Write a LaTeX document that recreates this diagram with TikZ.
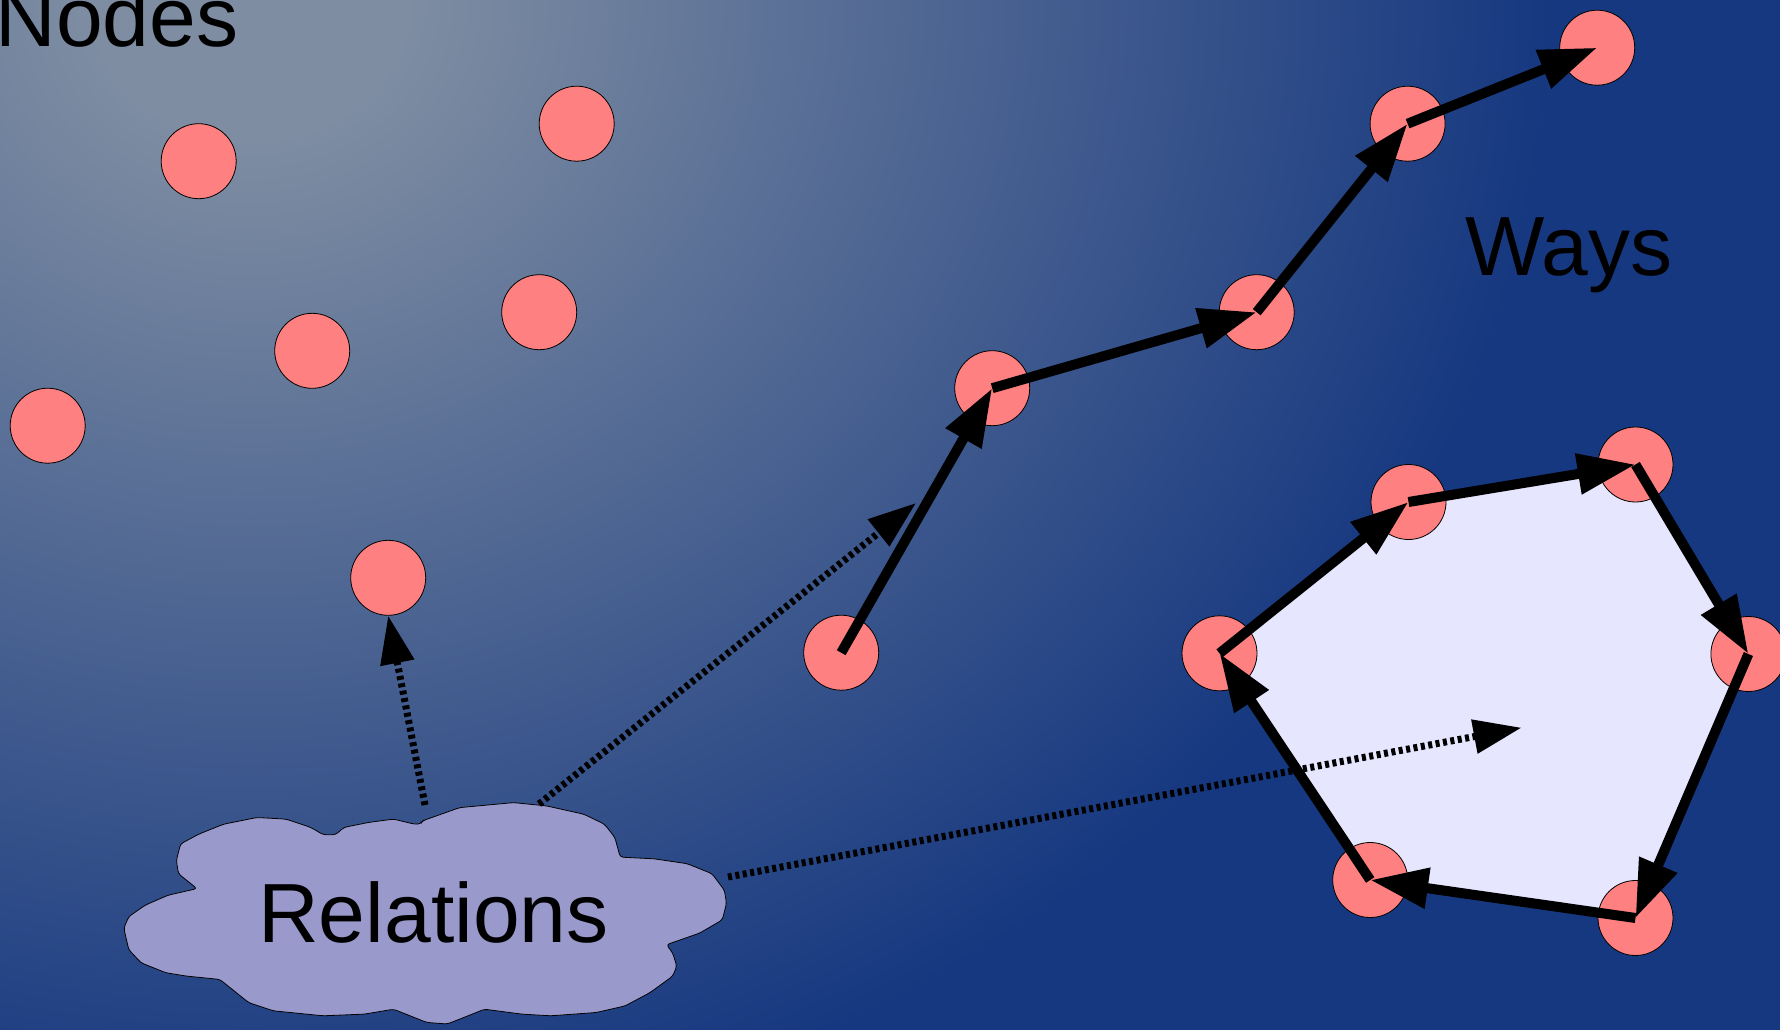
\documentclass[tikz,border=0pt]{standalone}
\usepackage{fontspec}
\setmainfont{Liberation Sans}
\usetikzlibrary{arrows.meta}
\definecolor{bgin}{RGB}{126,141,162}
\definecolor{bgout}{RGB}{22,56,128}
\definecolor{dotpink}{RGB}{255,128,128}
\definecolor{cloudfill}{RGB}{153,153,204}
\definecolor{areafill}{RGB}{230,230,255}
\pgfdeclareradialshading{bgshade}{\pgfpointorigin}{color(0bp)=(bgin); color(1.5bp)=(bgin); color(12.5bp)=(bgout); color(50bp)=(bgout)}
\pgfdeclarelayer{bg}
\pgfsetlayers{bg,main}
\begin{document}
\begin{tikzpicture}[x=1pt,y=-1pt,
  dot/.style={circle, draw=black, line width=0.8pt, fill=dotpink, minimum size=75pt, inner sep=0pt},
  wayarrow/.style={line width=10pt, -{Triangle[length=58pt,width=39pt]}},
  relarrow/.style={line width=7pt, dash pattern=on 4pt off 3.5pt, -{Triangle[length=48pt,width=33pt]}},
  bigtext/.style={font=\fontsize{84}{100}\selectfont, inner sep=0pt, text=black},
  cloudshape/.style={draw=black, line width=0.8pt, fill=cloudfill, rounded corners=3pt}]

\useasboundingbox (0,0) rectangle (1780,1030);

% free nodes
\node[dot] (n1) at (198.7,161.2) {};
\node[dot] (n2) at (576.7,123.7) {};
\node[dot] (n3) at (312.2,350.8) {};
\node[dot] (n4) at (539.2,312.2) {};
\node[dot] (n5) at (47.7,425.7) {};
\node[dot] (n6) at (388.2,577.8) {};

% open way
\node[dot] (w1) at (841.2,652.7) {};
\node[dot] (w2) at (992.2,388.2) {};
\node[dot] (w3) at (1256.7,312.2) {};
\node[dot] (w4) at (1407.6,123.7) {};
\node[dot] (w5) at (1597.2,47.7) {};

% closed way
\node[dot] (p1) at (1219.5,653.3) {};
\node[dot] (p2) at (1408.5,502.0) {};
\node[dot] (p3) at (1635.5,464.5) {};
\node[dot] (p4) at (1748.4,654.0) {};
\node[dot] (p5) at (1635.5,918.0) {};
\node[dot] (p6) at (1370.2,880.0) {};

\draw[wayarrow] (w1.center) -- (w2.center);
\draw[wayarrow] (w2.center) -- (w3.center);
\draw[wayarrow] (w3.center) -- (w4.center);
\draw[wayarrow] (w4.center) -- (w5.center);

\draw[wayarrow] (p1.center) -- (p2.center);
\draw[wayarrow] (p2.center) -- (p3.center);
\draw[wayarrow] (p3.center) -- (p4.center);
\draw[wayarrow] (p4.center) -- (p5.center);
\draw[wayarrow] (p5.center) -- (p6.center);
\draw[wayarrow] (p6.center) -- (p1.center);

% labels
\node[bigtext, anchor=base west] (nodes) at (-4.7,46.7) {Nodes};
\node[bigtext, anchor=base west] (ways) at (1465.5,275.5) {Ways};

% cloud
\draw[cloudshape] (123.8,928.2) -- (128.8,916.6) -- (145.3,905.1) -- (168.1,895.2) -- (197.0,888.6)
  -- (178.4,873.7) -- (176.4,860.4) -- (180.5,843.9) -- (199.1,834.0) -- (223.9,824.1) -- (257.0,817.5)
  -- (286.0,819.1) -- (310.8,827.4) -- (323.2,834.7) -- (335.6,834.7) -- (343.9,827.4) -- (368.7,822.4)
  -- (393.5,819.1) -- (414.2,824.1) -- (420.4,824.1) -- (422.5,820.8) -- (459.7,807.6) -- (513.5,802.6)
  -- (546.5,805.9) -- (583.8,814.2) -- (604.4,824.1) -- (614.8,837.3) -- (620.2,857.1) -- (654.1,858.8)
  -- (687.2,863.7) -- (712.0,873.7) -- (724.4,890.2) -- (726.5,903.4) -- (722.3,919.9) -- (699.6,933.1)
  -- (666.5,944.7) -- (672.7,953.0) -- (676.8,966.2) -- (672.7,976.1) -- (650.0,992.6) -- (625.1,1005.9)
  -- (596.2,1012.5) -- (550.7,1015.8) -- (521.7,1014.1) -- (484.5,1009.2) -- (468.0,1015.8) -- (447.3,1024.0)
  -- (426.6,1022.4) -- (410.1,1015.8) -- (393.5,1009.2) -- (364.6,1014.1) -- (323.2,1015.8) -- (273.2,1010.8)
  -- (248.7,1002.6) -- (219.8,979.4) -- (186.7,976.1) -- (166.0,972.8) -- (141.2,962.9) -- (128.8,949.7) -- cycle;
\node[bigtext, anchor=base] (rel) at (433.4,942) {Relations};

% relation member arrows
\coordinate (ra) at (425,805);
\coordinate (rb) at (539,804);
\coordinate (rc) at (728,877);
\coordinate (tb) at (916,503);
\coordinate (tc) at (1521.5,727.7);
\draw[relarrow] (ra) -- (n6.south);
\draw[relarrow] (rb) -- (tb);
\draw[relarrow] (rc) -- (tc);

\begin{pgfonlayer}{bg}
  \fill[bgout] (0,0) rectangle (1780,1030);
  \begin{scope}
    \clip (0,0) rectangle (1780,1030);
    \shade[shading=bgshade] (250,0) ellipse (2600 and 2300);
  \end{scope}
  \fill[areafill] (p1.center) -- (p2.center) -- (p3.center) -- (p4.center) -- (p5.center) -- (p6.center) -- cycle;
\end{pgfonlayer}
\end{tikzpicture}
\end{document}
